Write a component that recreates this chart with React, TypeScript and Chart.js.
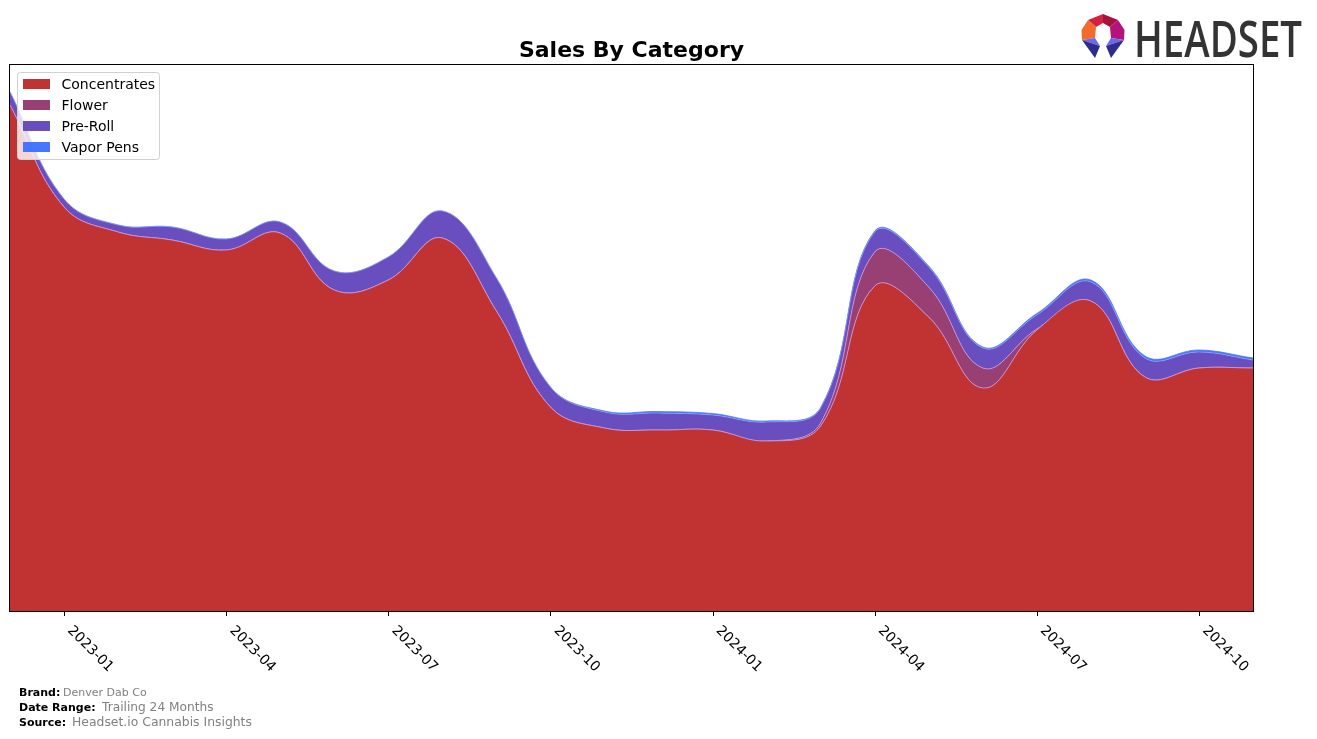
import React, { useEffect, useRef } from 'react';
import { Chart, registerables } from 'chart.js';

Chart.register(...registerables);

const months = [
  '2022-12', '2023-01', '2023-02', '2023-03', '2023-04', '2023-05', '2023-06', '2023-07',
  '2023-08', '2023-09', '2023-10', '2023-11', '2023-12', '2024-01', '2024-02', '2024-03',
  '2024-04', '2024-05', '2024-06', '2024-07', '2024-08', '2024-09', '2024-10', '2024-11',
];
const tickLabels = ['2023-01', '2023-04', '2023-07', '2023-10', '2024-01', '2024-04', '2024-07', '2024-10'];

const concentrates = [506, 404, 379, 371, 361, 378, 321, 331, 373, 300, 204, 183, 181, 181, 170, 185, 325, 294, 223, 281, 310, 234, 243, 243];
const flower = [0, 0, 0, 0, 0, 0, 0, 0, 0, 0, 0, 0, 0, 0, 0, 3, 34, 30, 20, 1, 0, 0, 0, 0];
const preRoll = [13, 8, 7, 13, 11, 11, 19, 23, 27, 33, 20, 16, 17, 15, 19, 15, 20, 20, 20, 14, 19, 19, 16, 8];
const vaporPens = [0, 0, 0, 0, 0, 0, 0, 0, 0, 0, 0, 1, 1.5, 1.5, 1, 0.5, 1, 1, 1, 1.5, 2, 2, 2, 2];

const seriesNames = ['Concentrates', 'Flower', 'Pre-Roll', 'Vapor Pens'];
const seriesColors = ['#C13232', '#984074', '#684EBE', '#4676FF'];
const seriesBorders = ['rgba(200,150,215,0.9)', 'rgba(200,150,215,0.9)', 'rgba(150,170,255,0.6)', 'rgba(70,118,255,0.75)'];
const seriesValues = [concentrates, flower, preRoll, vaporPens];

const FONT = '"DejaVu Sans", sans-serif';

const decorPlugin = {
  id: 'decor',
  afterDatasetsDraw(chart: any) {
    const { ctx, chartArea } = chart;
    const { left, right, top, bottom } = chartArea;
    const x = chart.scales.x;
    ctx.save();

    // frame
    ctx.strokeStyle = '#000';
    ctx.lineWidth = 1;
    ctx.strokeRect(Math.round(left) - 0.5, Math.round(top) - 0.5, Math.round(right - left) + 1, Math.round(bottom - top) + 1);

    // ticks + rotated labels
    ctx.fillStyle = '#000';
    ctx.font = `14px ${FONT}`;
    ctx.textAlign = 'left';
    ctx.textBaseline = 'alphabetic';
    tickLabels.forEach((lab) => {
      const idx = months.indexOf(lab);
      const px = x.getPixelForValue(idx);
      ctx.beginPath();
      ctx.moveTo(Math.round(px) + 0.5, bottom);
      ctx.lineTo(Math.round(px) + 0.5, bottom + 5);
      ctx.stroke();
      ctx.save();
      ctx.translate(px + 3, bottom + 20);
      ctx.rotate(Math.PI / 4);
      ctx.fillText(lab, 0, 0);
      ctx.restore();
    });

    // legend
    const lx = 17.5, ly = 72.5, lw = 142, lh = 87, r = 3;
    ctx.beginPath();
    ctx.moveTo(lx + r, ly);
    ctx.lineTo(lx + lw - r, ly);
    ctx.quadraticCurveTo(lx + lw, ly, lx + lw, ly + r);
    ctx.lineTo(lx + lw, ly + lh - r);
    ctx.quadraticCurveTo(lx + lw, ly + lh, lx + lw - r, ly + lh);
    ctx.lineTo(lx + r, ly + lh);
    ctx.quadraticCurveTo(lx, ly + lh, lx, ly + lh - r);
    ctx.lineTo(lx, ly + r);
    ctx.quadraticCurveTo(lx, ly, lx + r, ly);
    ctx.closePath();
    ctx.fillStyle = 'rgba(255,255,255,0.8)';
    ctx.fill();
    ctx.strokeStyle = '#d0d0d0';
    ctx.stroke();

    const rows = [84, 105, 126, 147];
    ctx.font = `14px ${FONT}`;
    seriesNames.forEach((name, i) => {
      const cy = rows[i];
      ctx.fillStyle = seriesColors[i];
      ctx.fillRect(23, cy - 5, 27, 10);
      ctx.fillStyle = '#000';
      ctx.fillText(name, 61.5, cy + 5);
    });

    ctx.restore();
  },
};

export default function App() {
  const canvasRef = useRef<HTMLCanvasElement | null>(null);

  useEffect(() => {
    if (!canvasRef.current) return;
    const chart = new Chart(canvasRef.current, {
      type: 'line',
      data: {
        labels: months,
        datasets: seriesNames.map((name, i) => ({
          label: name,
          data: seriesValues[i],
          backgroundColor: seriesColors[i],
          borderColor: seriesBorders[i],
          borderWidth: 1,
          fill: i === 0 ? 'origin' : '-1',
          pointRadius: 0,
          pointHoverRadius: 0,
          tension: 0.4,
        })),
      },
      options: {
        responsive: false,
        devicePixelRatio: 1,
        animation: false,
        events: [],
        layout: { padding: { left: 10, right: 64, top: 65, bottom: 128 } },
        plugins: {
          legend: { display: false },
          title: { display: false },
          tooltip: { enabled: false },
        },
        scales: {
          x: { type: 'category', display: false, offset: false },
          y: { display: false, stacked: true, min: 0, max: 546 },
        },
      },
      plugins: [decorPlugin],
    });
    return () => chart.destroy();
  }, []);

  return (
    <div style={{ position: 'absolute', left: 0, top: 0, width: 1317, height: 739, background: '#fff' }}>
      <canvas ref={canvasRef} width={1317} height={739} style={{ display: 'block', position: 'absolute', left: 0, top: 0 }} />
      <svg width={1317} height={739} style={{ position: 'absolute', left: 0, top: 0, pointerEvents: 'none' }}>
        <text x={631.5} y={57} textAnchor="middle" fontFamily="DejaVu Sans" fontWeight="bold" fontSize={22} fill="#000">
          Sales By Category
        </text>
        {/* logo */}
        <polygon points="1088,20 1103,14 1103,23 1096,27" fill="#D4213D" />
        <polygon points="1103,14 1118,20 1110,27 1103,23" fill="#A6123C" />
        <polygon points="1088,20 1096,27 1095,38 1082,40 1081.5,30" fill="#F26A2E" />
        <polygon points="1118,20 1124.5,30 1124,40 1111,38 1110,27" fill="#B5127A" />
        <polygon points="1082,40 1095,38 1100,46" fill="#6A6AE8" />
        <polygon points="1082,40 1100,46 1095,58" fill="#2E2C8C" />
        <polygon points="1124,40 1111,38 1106,46" fill="#6A6AE8" />
        <polygon points="1124,40 1106,46 1111,58" fill="#2E2C8C" />
        <text x={1134} y={57} fontFamily="Open Sans" fontWeight={600} fontSize={50} fill="#333" textLength={168} lengthAdjust="spacingAndGlyphs">
          HEADSET
        </text>
        {/* footer */}
        <text x={19} y={696} fontFamily="DejaVu Sans" fontSize={11} fontWeight="bold" fill="#000">Brand:</text>
        <text x={63} y={696} fontFamily="DejaVu Sans" fontSize={11} fill="#808080">Denver Dab Co</text>
        <text x={19} y={711} fontFamily="DejaVu Sans" fontSize={11} fontWeight="bold" fill="#000">Date Range:</text>
        <text x={102} y={711} fontFamily="DejaVu Sans" fontSize={12.2} fill="#808080">Trailing 24 Months</text>
        <text x={19} y={726} fontFamily="DejaVu Sans" fontSize={11} fontWeight="bold" fill="#000">Source:</text>
        <text x={72} y={726} fontFamily="DejaVu Sans" fontSize={12.4} fill="#808080">Headset.io Cannabis Insights</text>
      </svg>
    </div>
  );
}
